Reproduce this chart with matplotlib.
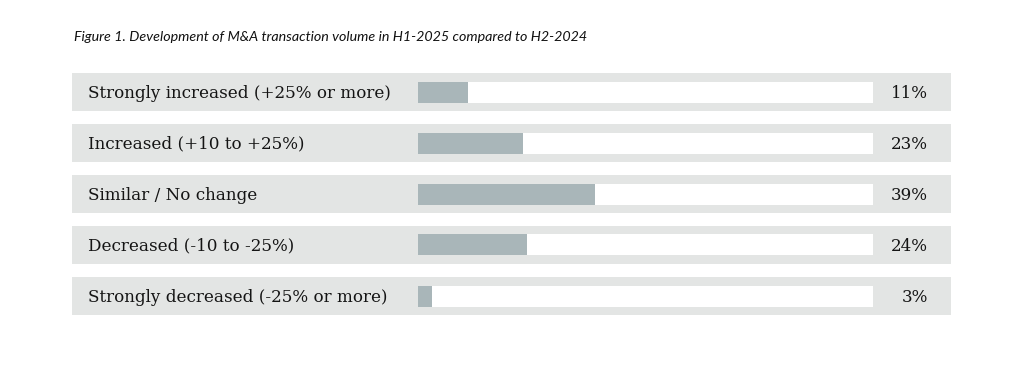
import matplotlib
matplotlib.use("Agg")
import matplotlib.pyplot as plt

categories = ["Strongly increased (+25% or more)", "Increased (+10 to +25%)",
              "Similar / No change", "Decreased (-10 to -25%)",
              "Strongly decreased (-25% or more)"]
values = [11, 23, 39, 24, 3]
value_labels = ["11%", "23%", "39%", "24%", "3%"]
title = "Figure 1. Development of M&A transaction volume in H1-2025 compared to H2-2024"

W, H = 1014, 392
fig = plt.figure(figsize=(W / 100, H / 100), dpi=100)
fig.patch.set_facecolor("white")

px_per = 4.55
x0 = 418
xmin = (72 - x0) / px_per
xmax = (951 - x0) / px_per
ax = fig.add_axes([72 / W, (H - 315) / H, (951 - 72) / W, (315 - 73) / H])
ax.set_xlim(xmin, xmax)
ax.set_ylim(4 + 19 / 51, -19 / 51)
ax.axis("off")

ys = list(range(len(categories)))
band = "#e3e5e4"
barc = "#a9b6b9"
ax.barh(ys, xmax - xmin, left=xmin, height=38 / 51, color=band, linewidth=0)
ax.barh(ys, 100, left=0, height=21 / 51, color="white", linewidth=0)
ax.barh(ys, values, left=0, height=21 / 51, color=barc, linewidth=0)

for y, c, v in zip(ys, categories, value_labels):
    ax.text((88 - x0) / px_per, y + 0.02, c, va="center", ha="left",
            fontsize=12.1, family="DejaVu Serif", color="#141414")
    ax.text((928 - x0) / px_per, y + 0.02, v, va="center", ha="right",
            fontsize=12.1, family="DejaVu Serif", color="#141414")

fig.text(74 / W, 1 - 37 / H, title, ha="left", va="center",
         fontsize=10.3, style="italic", family="Lato", color="#111111")

fig.savefig("out.png", dpi=100, facecolor="white")
